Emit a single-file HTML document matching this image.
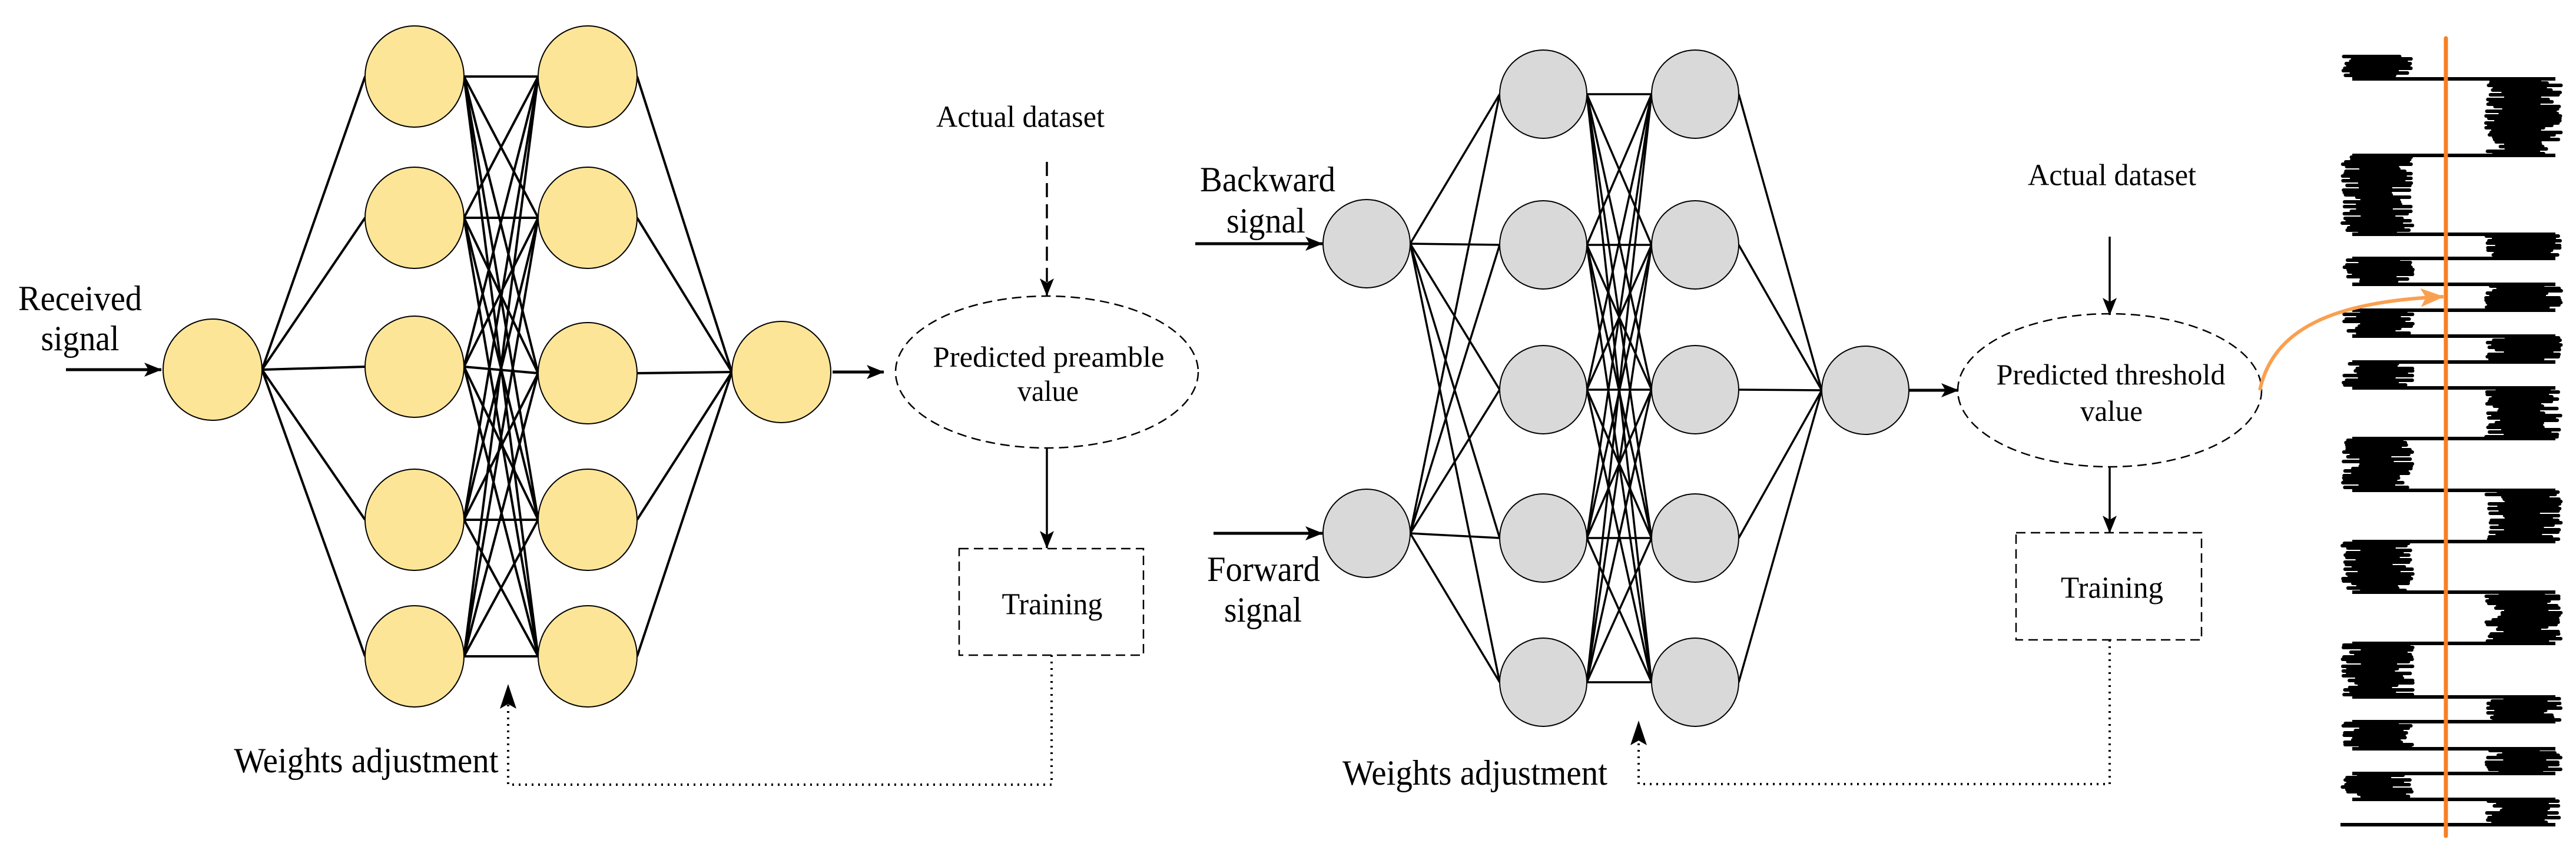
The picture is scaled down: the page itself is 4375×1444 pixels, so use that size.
<!DOCTYPE html>
<html><head><meta charset="utf-8"><style>
html,body{margin:0;padding:0;background:#fff;}
svg{display:block;}
text{font-family:"Liberation Serif",serif;fill:#000;}
</style></head><body>
<svg id="s" xmlns="http://www.w3.org/2000/svg" width="4375" height="1444" viewBox="0 0 4375 1444">
<defs>
<marker id="ah" viewBox="0 0 30 24" refX="29" refY="12" markerWidth="30" markerHeight="24" markerUnits="userSpaceOnUse" orient="auto">
<path d="M0,0 L30,12 L0,24 L7,12 z" fill="#000"/>
</marker>
<marker id="ao" viewBox="0 0 40 32" refX="39" refY="16" markerWidth="40" markerHeight="32" markerUnits="userSpaceOnUse" orient="auto">
<path d="M0,0 L40,16 L0,32 L9,16 z" fill="#f9a050"/>
</marker>
</defs>
<g id="lines" stroke="#000" stroke-width="4" fill="none"></g>
<g id="nodes"></g>
<g id="wave"></g>

<text x="136" y="507" font-size="60" text-anchor="middle" dominant-baseline="central" textLength="210" lengthAdjust="spacingAndGlyphs">Received</text>
<text x="136" y="575" font-size="60" text-anchor="middle" dominant-baseline="central" textLength="133" lengthAdjust="spacingAndGlyphs">signal</text>
<line x1="112" y1="628" x2="274" y2="628" stroke="#000" stroke-width="5" marker-end="url(#ah)"/>
<line x1="1414" y1="632" x2="1501" y2="632" stroke="#000" stroke-width="5" marker-end="url(#ah)"/>
<ellipse cx="1778" cy="632" rx="257" ry="129" fill="none" stroke="#000" stroke-width="2.5" stroke-dasharray="16,9"/>
<text x="1781" y="606" font-size="50" text-anchor="middle" dominant-baseline="central" textLength="393" lengthAdjust="spacingAndGlyphs">Predicted preamble</text>
<text x="1780" y="664" font-size="50" text-anchor="middle" dominant-baseline="central" textLength="104" lengthAdjust="spacingAndGlyphs">value</text>
<text x="1733" y="199" font-size="52" text-anchor="middle" dominant-baseline="central" textLength="286" lengthAdjust="spacingAndGlyphs">Actual dataset</text>
<line x1="1778" y1="275" x2="1778" y2="502" stroke="#000" stroke-width="3.5" stroke-dasharray="24,12" marker-end="url(#ah)"/>
<line x1="1778" y1="760" x2="1778" y2="931" stroke="#000" stroke-width="3.5" marker-end="url(#ah)"/>
<rect x="1629" y="932" width="313" height="181" fill="none" stroke="#000" stroke-width="2.5" stroke-dasharray="16,9"/>
<text x="1787" y="1027" font-size="52" text-anchor="middle" dominant-baseline="central" textLength="171" lengthAdjust="spacingAndGlyphs">Training</text>
<polyline points="1786,1113 1786,1333 863,1333 863,1168" fill="none" stroke="#000" stroke-width="4" stroke-dasharray="3,8"/>
<path d="M863,1162 L849,1204 L863,1196 L877,1204 z" fill="#000"/>
<text x="622" y="1292" font-size="60" text-anchor="middle" dominant-baseline="central" textLength="449" lengthAdjust="spacingAndGlyphs">Weights adjustment</text>

<text x="2153" y="305" font-size="60" text-anchor="middle" dominant-baseline="central" textLength="230" lengthAdjust="spacingAndGlyphs">Backward</text>
<text x="2150" y="375" font-size="60" text-anchor="middle" dominant-baseline="central" textLength="134" lengthAdjust="spacingAndGlyphs">signal</text>
<line x1="2030" y1="414" x2="2246" y2="414" stroke="#000" stroke-width="5" marker-end="url(#ah)"/>
<text x="2146" y="967" font-size="60" text-anchor="middle" dominant-baseline="central" textLength="192" lengthAdjust="spacingAndGlyphs">Forward</text>
<text x="2145" y="1036" font-size="60" text-anchor="middle" dominant-baseline="central" textLength="132" lengthAdjust="spacingAndGlyphs">signal</text>
<line x1="2061" y1="906" x2="2246" y2="906" stroke="#000" stroke-width="5" marker-end="url(#ah)"/>
<line x1="3242" y1="663" x2="3326" y2="663" stroke="#000" stroke-width="5" marker-end="url(#ah)"/>
<ellipse cx="3583" cy="663" rx="258" ry="130" fill="none" stroke="#000" stroke-width="2.5" stroke-dasharray="16,9"/>
<text x="3585" y="636" font-size="50" text-anchor="middle" dominant-baseline="central" textLength="389" lengthAdjust="spacingAndGlyphs">Predicted threshold</text>
<text x="3586" y="698" font-size="50" text-anchor="middle" dominant-baseline="central" textLength="106" lengthAdjust="spacingAndGlyphs">value</text>
<text x="3587" y="298" font-size="52" text-anchor="middle" dominant-baseline="central" textLength="286" lengthAdjust="spacingAndGlyphs">Actual dataset</text>
<line x1="3583" y1="402" x2="3583" y2="535" stroke="#000" stroke-width="3.5" marker-end="url(#ah)"/>
<line x1="3583" y1="793" x2="3583" y2="905" stroke="#000" stroke-width="3.5" marker-end="url(#ah)"/>
<rect x="3424" y="905" width="315" height="182" fill="none" stroke="#000" stroke-width="2.5" stroke-dasharray="16,9"/>
<text x="3587" y="999" font-size="52" text-anchor="middle" dominant-baseline="central" textLength="174" lengthAdjust="spacingAndGlyphs">Training</text>
<polyline points="3583,1087 3583,1332 2783,1332 2783,1230" fill="none" stroke="#000" stroke-width="4" stroke-dasharray="3,8"/>
<path d="M2783,1224 L2769,1266 L2783,1258 L2797,1266 z" fill="#000"/>
<text x="2505" y="1313" font-size="60" text-anchor="middle" dominant-baseline="central" textLength="450" lengthAdjust="spacingAndGlyphs">Weights adjustment</text>

<line x1="4154" y1="65" x2="4154" y2="1420" stroke="#f58025" stroke-width="7" stroke-linecap="round"/>
<path d="M3838,663 C3860,560 3960,512 4150,504" fill="none" stroke="#f9a050" stroke-width="6" marker-end="url(#ao)"/>
</svg>
<script>
(function(){
var NS="http://www.w3.org/2000/svg";
var L=document.getElementById("lines"),N=document.getElementById("nodes"),W=document.getElementById("wave");
function el(p,t,a){var e=document.createElementNS(NS,t);for(var k in a)e.setAttribute(k,a[k]);p.appendChild(e);return e;}
function net(layers,rx,ry,fill,sw){
  for(var i=0;i<layers.length-1;i++){
    var A=layers[i],B=layers[i+1];
    A.n.forEach(function(ya){B.n.forEach(function(yb){
      el(L,"line",{x1:A.x+rx,y1:ya,x2:B.x-rx,y2:yb,"stroke-width":sw});
    });});
  }
  layers.forEach(function(l){l.n.forEach(function(y){
    el(N,"ellipse",{cx:l.x,cy:y,rx:rx,ry:ry,fill:fill,stroke:"#000","stroke-width":2});
  });});
}
net([{x:361,n:[628]},{x:704,n:[130,370,623,883,1115]},{x:998,n:[130,370,634,883,1115]},{x:1327,n:[632]}],84,86,"#fde598",4);
net([{x:2321,n:[414,906]},{x:2621,n:[160,416,662,914,1159]},{x:2879,n:[160,416,662,914,1159]},{x:3168,n:[663]}],74,75,"#d9d9d9",3.5);
var b=[93,134,264,398,439,483,527,571,615,659,745,833,920,1006,1093,1184,1226,1272,1314,1358,1401];
var seed=7;function r(){seed=(seed*9301+49297)%233280;return seed/233280;}
for(var i=0;i<b.length-1;i++){
  var left=(i%2===0),y0=b[i],y1=b[i+1];
  var cx0=left?3978:4222, cx1=left?4098:4350;
  for(var y=y0+3;y<y1-2;y+=4){
    var a=cx0+r()*35, c=cx1-r()*40;
    if(r()<0.3){a=cx0+r()*10;} if(r()<0.3){c=cx1-r()*8;}
    el(W,"line",{x1:a,y1:y,x2:c,y2:y,stroke:"#000","stroke-width":6,"stroke-linecap":"round"});
  }
  if(i<b.length-2){ el(W,"line",{x1:3995,y1:y1,x2:4340,y2:y1,stroke:"#000","stroke-width":6}); }
}
el(W,"line",{x1:3975,y1:1401,x2:4340,y2:1401,stroke:"#000","stroke-width":6});
})();
</script>
</body></html>
